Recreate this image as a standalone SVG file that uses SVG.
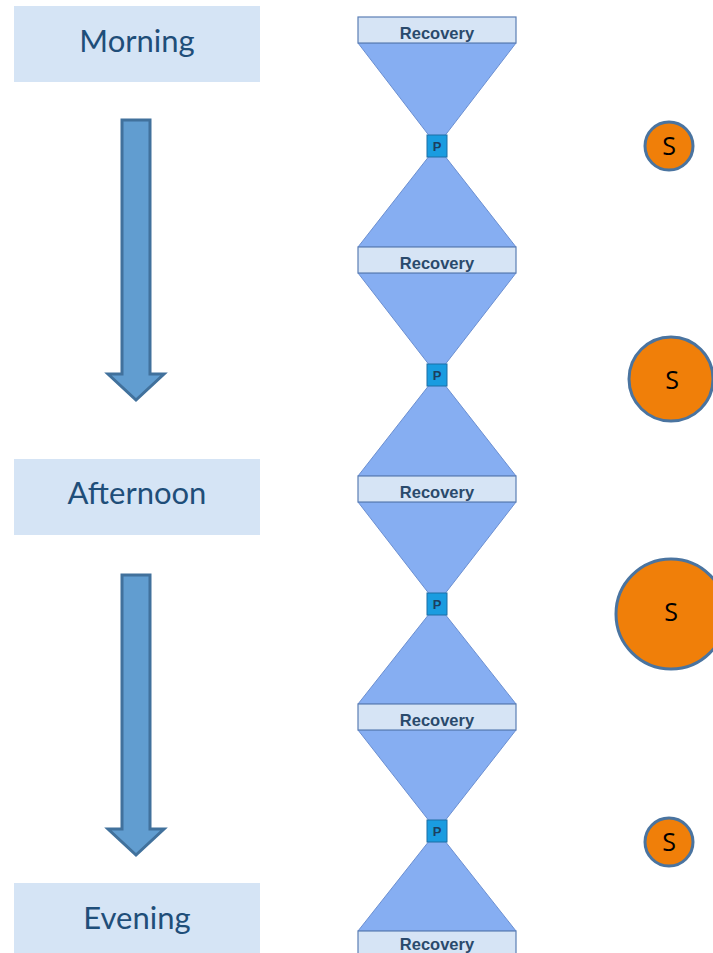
<svg xmlns="http://www.w3.org/2000/svg" width="713" height="953" viewBox="0 0 713 953">
<style>
.lbl{fill:#d5e4f5}
.lt{font-family:Lato,"Open Sans",sans-serif;font-size:31px;fill:#1f4e79;text-anchor:middle}
.arr{fill:#619dd0;stroke:#41719c;stroke-width:3}
.tri{fill:#86aef2;stroke:#6b8fd1;stroke-width:1}
.bar{fill:#d6e4f5;stroke:#5b7fb5;stroke-width:1.2}
.bt{font-family:"Liberation Sans",Arial,sans-serif;font-weight:bold;font-size:16.5px;fill:#2a4a6c;text-anchor:middle}
.pb{fill:#1a9ce0;stroke:#1d6ea6;stroke-width:1}
.pt{font-family:"Liberation Sans",Arial,sans-serif;font-weight:bold;font-size:13px;fill:#1c3f5f;text-anchor:middle}
.c{fill:#f07f09;stroke:#4a74a0;stroke-width:3}
.ct{font-family:"Open Sans","Liberation Sans",sans-serif;font-size:25px;fill:#000;text-anchor:middle}
</style>
<rect width="713" height="953" fill="#fff"/>
<g id="morning"><rect class="lbl" x="14" y="6" width="246" height="76"/><text class="lt" x="137" y="52">Morning</text></g>
<g id="afternoon"><rect class="lbl" x="14" y="459" width="246" height="76"/><text class="lt" x="137" y="504">Afternoon</text></g>
<g id="evening"><rect class="lbl" x="14" y="883" width="246" height="72"/><text class="lt" x="137" y="929">Evening</text></g>
<g id="connectors">
<path class="arr" d="M122,120 H150 V374 H164 L136,400 L108,374 H122 Z"/>
<path class="arr" d="M122,575 H150 V829 H164 L136,855 L108,829 H122 Z"/>
</g>
<g id="hourglass">
<polygon class="tri" points="358,43 516,43 437,146"/>
<polygon class="tri" points="437,146 516,247 358,247"/>
<polygon class="tri" points="358,273 516,273 437,375"/>
<polygon class="tri" points="437,375 516,476 358,476"/>
<polygon class="tri" points="358,502 516,502 437,604"/>
<polygon class="tri" points="437,604 516,704 358,704"/>
<polygon class="tri" points="358,730 516,730 437,831"/>
<polygon class="tri" points="437,831 516,931 358,931"/>
</g>
<g id="recovery1"><rect class="bar" x="358" y="17" width="158" height="26"/><text class="bt" x="437" y="39">Recovery</text></g>
<g id="recovery2"><rect class="bar" x="358" y="247" width="158" height="26"/><text class="bt" x="437" y="269">Recovery</text></g>
<g id="recovery3"><rect class="bar" x="358" y="476" width="158" height="26"/><text class="bt" x="437" y="498">Recovery</text></g>
<g id="recovery4"><rect class="bar" x="358" y="704" width="158" height="26"/><text class="bt" x="437" y="726">Recovery</text></g>
<g id="recovery5"><rect class="bar" x="358" y="931" width="158" height="26"/><text class="bt" x="437" y="950">Recovery</text></g>
<g id="p1"><rect class="pb" x="427" y="135" width="20" height="22"/><text class="pt" x="437" y="151">P</text></g>
<g id="p2"><rect class="pb" x="427" y="364" width="20" height="22"/><text class="pt" x="437" y="380">P</text></g>
<g id="p3"><rect class="pb" x="427" y="593" width="20" height="22"/><text class="pt" x="437" y="609">P</text></g>
<g id="p4"><rect class="pb" x="427" y="820" width="20" height="22"/><text class="pt" x="437" y="836">P</text></g>
<g id="s1"><circle class="c" cx="669" cy="146" r="24"/><text class="ct" x="669" y="155">S</text></g>
<g id="s2"><circle class="c" cx="671" cy="379" r="42"/><text class="ct" x="672" y="389">S</text></g>
<g id="s3"><circle class="c" cx="671" cy="614" r="55"/><text class="ct" x="671" y="621">S</text></g>
<g id="s4"><circle class="c" cx="669" cy="842" r="24"/><text class="ct" x="669" y="851">S</text></g>
</svg>
